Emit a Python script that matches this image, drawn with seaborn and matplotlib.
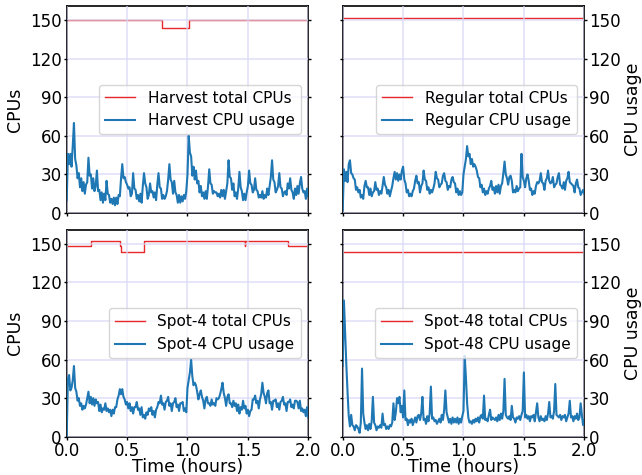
import numpy as np
import pandas as pd
import matplotlib
matplotlib.use("Agg")
import matplotlib.pyplot as plt
import seaborn as sns

# ---------------- data ----------------
hours = np.linspace(0, 2, 201)

harvest_usage = [
    10, 46, 38, 46, 36, 52, 70, 42, 37, 27, 31, 20, 27, 17, 24, 15, 22, 24, 43, 29,
    30, 19, 27, 17, 21, 33, 17, 18, 10, 16, 8, 15, 10, 25, 15, 14, 8, 11, 7, 12,
    6, 12, 7, 14, 13, 27, 38, 27, 28, 24, 22, 19, 20, 13, 15, 31, 19, 18, 11, 14,
    9, 15, 8, 21, 31, 23, 20, 11, 14, 23, 16, 17, 12, 16, 10, 22, 31, 20, 19, 11,
    14, 11, 13, 17, 26, 38, 26, 24, 15, 25, 16, 14, 8, 14, 8, 13, 9, 14, 11, 17,
    30, 60, 47, 44, 29, 36, 26, 33, 23, 25, 16, 21, 13, 16, 11, 17, 11, 21, 34, 23,
    22, 15, 17, 16, 16, 13, 15, 12, 18, 13, 18, 11, 17, 23, 41, 28, 27, 18, 23, 13,
    16, 11, 19, 32, 20, 17, 10, 15, 10, 16, 21, 33, 23, 22, 16, 18, 27, 18, 17, 12,
    14, 12, 17, 11, 14, 12, 19, 14, 21, 28, 41, 26, 24, 16, 18, 21, 31, 20, 19, 13,
    16, 17, 14, 23, 19, 27, 18, 16, 11, 19, 14, 21, 15, 23, 28, 19, 16, 17, 11, 19,
    13,
]

regular_usage = [
    2, 34, 25, 32, 24, 38, 41, 31, 30, 27, 26, 18, 20, 16, 18, 12, 14, 11, 21, 25,
    20, 20, 14, 19, 13, 16, 17, 24, 18, 19, 14, 17, 15, 21, 28, 22, 20, 15, 18, 13,
    17, 21, 27, 32, 26, 31, 25, 30, 26, 33, 36, 26, 23, 16, 18, 13, 15, 13, 17, 19,
    25, 29, 23, 24, 16, 21, 23, 33, 26, 25, 18, 20, 15, 18, 16, 19, 23, 32, 27, 26,
    20, 22, 23, 29, 31, 25, 24, 18, 21, 20, 26, 28, 24, 23, 16, 19, 14, 17, 14, 16,
    30, 36, 42, 52, 44, 46, 38, 42, 36, 38, 36, 33, 28, 27, 20, 22, 16, 19, 14, 17,
    15, 19, 21, 25, 18, 20, 15, 21, 16, 22, 15, 21, 23, 31, 40, 30, 27, 22, 28, 29,
    25, 16, 18, 16, 21, 17, 19, 20, 46, 28, 25, 20, 27, 30, 25, 18, 19, 14, 17, 15,
    21, 24, 23, 25, 31, 24, 23, 18, 25, 27, 33, 25, 23, 24, 28, 20, 22, 23, 28, 31,
    22, 21, 19, 24, 18, 25, 27, 32, 24, 23, 22, 21, 16, 23, 26, 20, 19, 14, 16, 18,
    15,
]

spot4_usage = [
    0, 45, 48, 36, 38, 44, 55, 38, 35, 28, 30, 24, 26, 21, 24, 22, 25, 30, 35, 26,
    31, 25, 30, 24, 29, 26, 27, 20, 25, 19, 22, 21, 26, 20, 22, 19, 21, 16, 21, 18,
    23, 23, 29, 32, 37, 33, 37, 31, 29, 25, 27, 22, 26, 20, 23, 18, 23, 23, 27, 21,
    22, 17, 23, 15, 17, 14, 19, 17, 22, 20, 23, 17, 20, 15, 21, 23, 27, 26, 32, 25,
    26, 21, 27, 28, 31, 24, 26, 20, 26, 27, 30, 23, 25, 20, 26, 26, 27, 20, 22, 19,
    38, 44, 50, 60, 47, 40, 42, 40, 35, 29, 33, 36, 31, 28, 22, 29, 31, 26, 26, 24,
    29, 25, 26, 24, 30, 29, 30, 33, 37, 42, 34, 30, 24, 31, 33, 26, 26, 23, 28, 24,
    26, 20, 25, 18, 23, 21, 28, 22, 24, 18, 21, 16, 20, 21, 29, 29, 32, 26, 28, 22,
    29, 33, 42, 34, 31, 26, 34, 36, 26, 27, 21, 28, 28, 29, 23, 26, 21, 27, 28, 31,
    25, 26, 20, 27, 27, 29, 23, 25, 22, 28, 28, 27, 22, 28, 20, 22, 19, 21, 16, 23,
    15,
]

spot48_usage = [
    55, 106, 80, 56, 35, 16, 8, 17, 9, 8, 5, 9, 8, 6, 3, 11, 53, 18, 11, 6,
    9, 5, 10, 6, 12, 31, 11, 9, 5, 8, 7, 9, 7, 18, 9, 10, 6, 8, 6, 9,
    8, 11, 26, 13, 19, 30, 26, 31, 19, 24, 15, 36, 13, 14, 9, 13, 11, 14, 9, 12,
    15, 11, 16, 17, 13, 18, 31, 13, 14, 10, 16, 12, 18, 39, 14, 15, 12, 13, 10, 12,
    14, 11, 17, 13, 21, 36, 19, 15, 11, 14, 10, 15, 11, 14, 11, 15, 10, 14, 11, 16,
    20, 63, 46, 26, 15, 11, 12, 10, 13, 11, 14, 12, 15, 11, 16, 17, 14, 32, 13, 14,
    12, 17, 21, 13, 15, 14, 13, 15, 12, 17, 13, 18, 14, 20, 45, 17, 15, 14, 16, 13,
    24, 15, 14, 11, 15, 14, 16, 13, 17, 20, 50, 15, 17, 14, 16, 12, 16, 15, 17, 12,
    19, 26, 15, 12, 16, 13, 14, 12, 16, 13, 18, 27, 15, 16, 14, 20, 41, 17, 16, 15,
    17, 13, 16, 15, 17, 12, 15, 18, 28, 15, 16, 12, 16, 14, 18, 13, 15, 26, 17, 9,
    13,
]

harvest_total_t = [0.0, 0.79, 1.015, 2.0]
harvest_total_v = [150, 144, 150, 150]
regular_total_t = [0.0, 2.0]
regular_total_v = [152, 152]
spot4_total_t = [0.0, 0.2, 0.44, 0.45, 0.64, 1.474, 1.48, 1.83, 2.0]
spot4_total_v = [148, 152, 148, 144, 152, 148, 152, 148, 148]
spot48_total_t = [0.0, 2.0]
spot48_total_v = [144, 144]

panels = [
    ("Harvest", harvest_total_t, harvest_total_v, harvest_usage),
    ("Regular", regular_total_t, regular_total_v, regular_usage),
    ("Spot-4", spot4_total_t, spot4_total_v, spot4_usage),
    ("Spot-48", spot48_total_t, spot48_total_v, spot48_usage),
]

yticks = [0, 30, 60, 90, 120, 150]
xticks = [0.0, 0.5, 1.0, 1.5, 2.0]

# ---------------- figure ----------------
plt.rcParams["font.family"] = ["DejaVu Sans"]
fig = plt.figure(figsize=(6.42, 4.75), dpi=100)

lefts = [0.1039, 0.5338]
bottoms = [0.5516, 0.0806]
w, h = 0.3763, 0.4358

red = "#e8282b"
blue = "#1f77b4"

for k, (name, tt, tv, usage) in enumerate(panels):
    r, c = divmod(k, 2)
    ax = fig.add_axes([lefts[c], bottoms[r], w, h])
    tot = pd.DataFrame({"t": tt, "v": tv})
    use = pd.DataFrame({"t": hours, "v": usage})
    sns.lineplot(data=tot, x="t", y="v", ax=ax, color=red, lw=1.0,
                 drawstyle="steps-post", estimator=None, zorder=2,
                 label=f"{name} total CPUs")
    sns.lineplot(data=use, x="t", y="v", ax=ax, color=blue, lw=1.5,
                 estimator=None, zorder=3, label=f"{name} CPU usage")
    ax.set_xlim(0, 2)
    ax.set_ylim(0, 161)
    ax.set_yticks(yticks)
    ax.set_xticks(xticks)
    ax.set_axisbelow(False)
    ax.grid(True, color="#d8d8f4", lw=1.2, alpha=0.75, zorder=2.5)
    for s in ax.spines.values():
        s.set_linewidth(1.2)
        s.set_color("black")
    ax.yaxis.set_ticks_position("both")
    ax.tick_params(axis="both", direction="out", length=2.5, width=1.0,
                   pad=1.0, labelsize=12, colors="black")
    if c == 1:
        ax.yaxis.set_label_position("right")
        ax.tick_params(axis="y", labelleft=False, labelright=True)
        ax.set_ylabel("CPU usage", fontsize=12.5, labelpad=2)
    else:
        ax.set_ylabel("CPUs", fontsize=12.5, labelpad=4.5)
    if r == 0:
        ax.tick_params(axis="x", labelbottom=False)
        ax.set_xlabel("")
    else:
        ax.set_xlabel("Time (hours)", fontsize=12.5, labelpad=-1)
    leg = ax.legend(loc="center right", fontsize=11, handlelength=2.0)
    leg.set_zorder(5)

fig.savefig("out.png", dpi=100)
